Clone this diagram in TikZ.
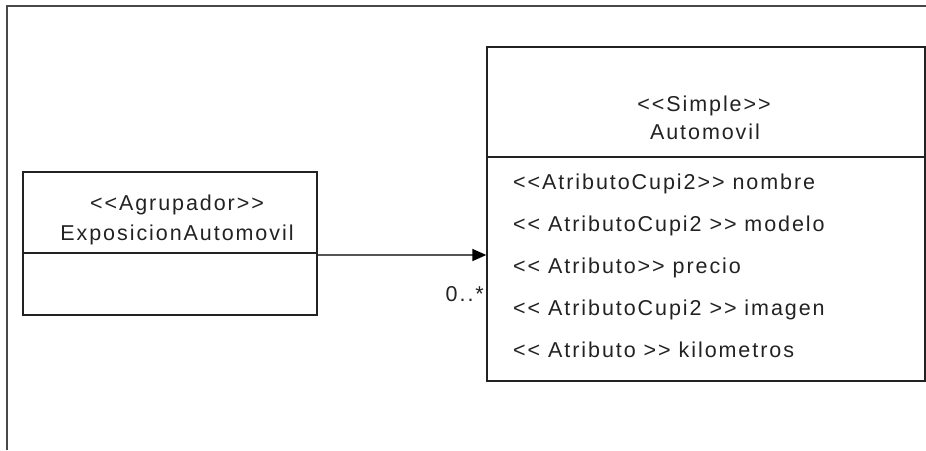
\documentclass[tikz,border=0pt]{standalone}
\usepackage{fontspec}
\newfontfamily\umlfont{Liberation Sans}[LetterSpace=9]
\usetikzlibrary{arrows.meta}
\definecolor{ink}{HTML}{222222}
\definecolor{frame}{HTML}{484848}
\definecolor{wire}{HTML}{555555}
\tikzset{
  classbox/.style={draw=ink, line width=1.3pt, rectangle, inner sep=0pt},
  txt/.style={inner sep=0pt, text=ink, font=\umlfont\fontsize{21.5}{29}\selectfont},
  assoc/.style={draw=wire, line width=1.5pt, -{Triangle[length=14pt,width=12pt,color=black]}},
}
\begin{document}
\begin{tikzpicture}[x=1pt,y=-1pt]
\useasboundingbox (0,0) rectangle (926,450);
% outer frame (top and left only)
\draw[frame, line width=2pt] (7,450) -- (7,6) -- (926,6);
% left class
\node[classbox, minimum width=294pt, minimum height=143pt] (agr) at (170,243.5) {};
\draw[ink, line width=1.3pt] (agr.west |- 0,253) -- (agr.east |- 0,253);
\node[txt, anchor=base] (agrst) at (177,210) {<<Agrupador>>};
\node[txt, anchor=base] (agrnm) at (177,240) {ExposicionAutomovil};
% right class
\node[classbox, minimum width=438pt, minimum height=334pt] (aut) at (706,214) {};
\draw[ink, line width=1.3pt] (aut.west |- 0,157) -- (aut.east |- 0,157);
\node[txt, anchor=base] (autst) at (704,111) {<<Simple>>};
\node[txt, anchor=base] (autnm) at (705,139) {Automovil};
\node[txt, anchor=base west] (a1) at (513,189) {<<AtributoCupi2>> nombre};
\node[txt, anchor=base west] (a2) at (513,231) {<< AtributoCupi2 >> modelo};
\node[txt, anchor=base west] (a3) at (513,273) {<< Atributo>> precio};
\node[txt, anchor=base west] (a4) at (513,315) {<< AtributoCupi2 >> imagen};
\node[txt, anchor=base west] (a5) at (513,357) {<< Atributo >> kilometros};
% association
\coordinate (ly) at (0,255);
\draw[assoc] (agr.east |- ly) -- (aut.west |- ly);
\node[txt, anchor=base east] (mult) at (484,301) {0..*};
\end{tikzpicture}
\end{document}
